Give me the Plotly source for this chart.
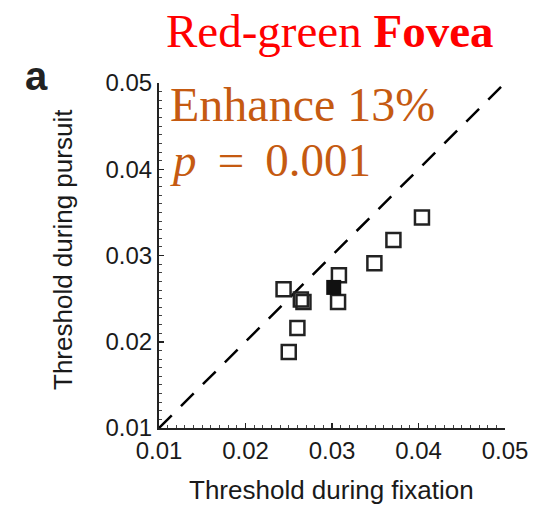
import plotly.graph_objects as go

fixation = [0.0404, 0.0371, 0.0349, 0.0308, 0.0307, 0.0244, 0.0264, 0.0267, 0.0260, 0.0250]
pursuit = [0.0344, 0.0318, 0.0291, 0.0277, 0.0246, 0.0261, 0.0249, 0.0246, 0.0216, 0.0188]
mean_fixation = [0.0302]
mean_pursuit = [0.0263]
diag = [0.01, 0.05]
tick_vals = [0.01, 0.02, 0.03, 0.04, 0.05]
tick_text = ["0.01", "0.02", "0.03", "0.04", "0.05"]

L, R, T, B = 159, 29, 83, 78
W, H = 534, 506
pw = W - L - R
ph = H - T - B
def px(xp):
    return (xp - L) / pw
def py(yp):
    return (H - B - yp) / ph

fig = go.Figure()
fig.add_trace(go.Scatter(x=diag, y=diag, mode="lines",
                         line=dict(color="black", width=2.5, dash="18px,13px"),
                         showlegend=False, hoverinfo="skip"))
fig.add_trace(go.Scatter(x=fixation, y=pursuit, mode="markers",
                         marker=dict(symbol="square-open", size=14,
                                     color="#222222", line=dict(width=2.5, color="#222222")),
                         showlegend=False))
fig.add_trace(go.Scatter(x=mean_fixation, y=mean_pursuit, mode="markers",
                         marker=dict(symbol="square", size=15, color="#111111"),
                         showlegend=False))

sans = "Liberation Sans, Arial, sans-serif"
serif = "Liberation Serif, Times New Roman, serif"

axis_common = dict(
    range=[0.01, 0.05], tickvals=tick_vals, ticktext=tick_text,
    showgrid=False, zeroline=False, showline=True, linecolor="#222222", linewidth=2,
    ticks="inside", ticklen=5, tickwidth=1.5, tickcolor="#222222",
    minor=dict(dtick=0.001, ticks="inside", ticklen=3, tickwidth=1, tickcolor="#444444"),
    tickfont=dict(family=sans, size=24, color="#1a1a1a"),
    fixedrange=True, automargin=False,
)

fig.update_layout(
    width=W, height=H,
    margin=dict(l=L, r=R, t=T, b=B, autoexpand=False),
    paper_bgcolor="white", plot_bgcolor="white",
    xaxis=dict(**axis_common),
    yaxis=dict(**axis_common),
    annotations=[
        dict(text="Red-green <b>Fovea</b>", xref="paper", yref="paper",
             x=px(330), y=py(31), xanchor="center", yanchor="middle", showarrow=False,
             font=dict(family=serif, size=47, color="#ff0000")),
        dict(text="<b>a</b>", xref="paper", yref="paper",
             x=px(36), y=py(76), xanchor="center", yanchor="middle", showarrow=False,
             font=dict(family=sans, size=40, color="#222222")),
        dict(text="Enhance 13%", xref="paper", yref="paper",
             x=px(168), y=py(104), xanchor="left", yanchor="middle", showarrow=False,
             font=dict(family=serif, size=48, color="#c55a11")),
        dict(text="<i>p</i>\u2009 = \u20090.001", xref="paper", yref="paper",
             x=px(168), y=py(160), xanchor="left", yanchor="middle", showarrow=False,
             font=dict(family=serif, size=47, color="#c55a11")),
        dict(text="Threshold during fixation", xref="paper", yref="paper",
             x=px(331), y=py(490), xanchor="center", yanchor="middle", showarrow=False,
             font=dict(family=sans, size=26, color="#1a1a1a")),
        dict(text="Threshold during pursuit", xref="paper", yref="paper",
             x=px(63), y=py(250), xanchor="center", yanchor="middle", showarrow=False,
             textangle=-90, font=dict(family=sans, size=26, color="#1a1a1a")),
    ],
)

fig.write_html("out.html",
               config={"displayModeBar": False, "staticPlot": True},
               post_script="document.body.style.margin='0';document.body.style.overflow='hidden';")
